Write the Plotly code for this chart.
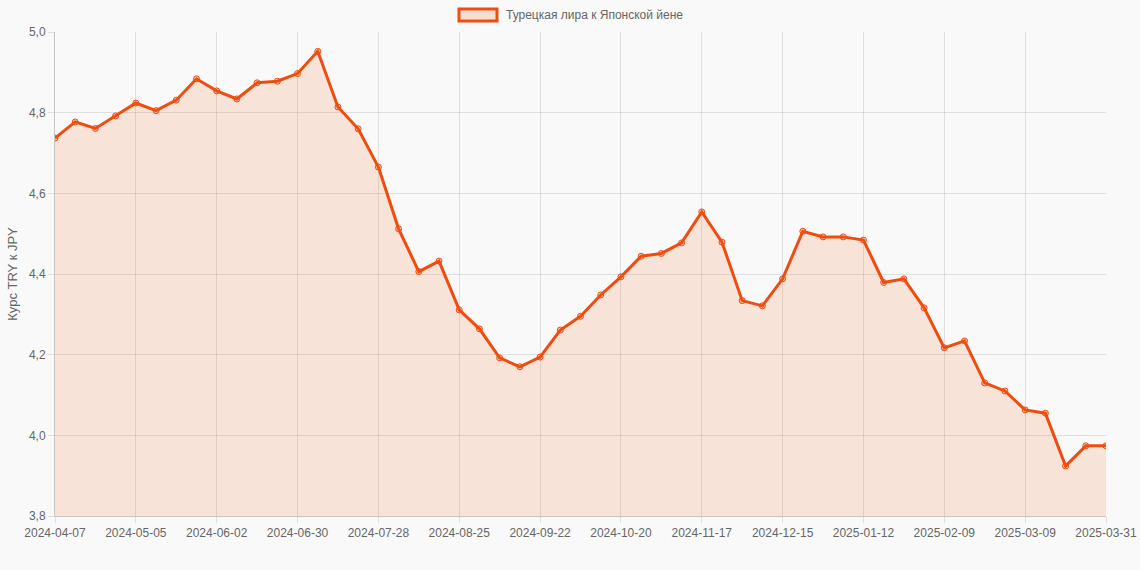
import plotly.graph_objects as go

# weekly dates (category axis), last point is 2025-03-31
dates = [
    "2024-04-07", "2024-04-14", "2024-04-21", "2024-04-28", "2024-05-05", "2024-05-12",
    "2024-05-19", "2024-05-26", "2024-06-02", "2024-06-09", "2024-06-16", "2024-06-23",
    "2024-06-30", "2024-07-07", "2024-07-14", "2024-07-21", "2024-07-28", "2024-08-04",
    "2024-08-11", "2024-08-18", "2024-08-25", "2024-09-01", "2024-09-08", "2024-09-15",
    "2024-09-22", "2024-09-29", "2024-10-06", "2024-10-13", "2024-10-20", "2024-10-27",
    "2024-11-03", "2024-11-10", "2024-11-17", "2024-11-24", "2024-12-01", "2024-12-08",
    "2024-12-15", "2024-12-22", "2024-12-29", "2025-01-05", "2025-01-12", "2025-01-19",
    "2025-01-26", "2025-02-02", "2025-02-09", "2025-02-16", "2025-02-23", "2025-03-02",
    "2025-03-09", "2025-03-16", "2025-03-23", "2025-03-30", "2025-03-31",
]

rates = [
    4.737, 4.777, 4.761, 4.792, 4.824, 4.805, 4.831, 4.884, 4.854, 4.834,
    4.874, 4.878, 4.897, 4.952, 4.814, 4.760, 4.665, 4.512, 4.406, 4.432,
    4.311, 4.264, 4.192, 4.170, 4.194, 4.261, 4.295, 4.348, 4.393, 4.444,
    4.451, 4.477, 4.554, 4.479, 4.334, 4.321, 4.388, 4.506, 4.492, 4.492,
    4.484, 4.379, 4.388, 4.316, 4.217, 4.234, 4.130, 4.110, 4.063, 4.055,
    3.924, 3.974, 3.974,
]

tick_labels = dates[::4] + [dates[-1]]

series_name = "Турецкая лира к Японской йене"
line_color = "#ef4d10"
fill_color = "rgba(242, 110, 50, 0.16)"
bg = "#f9f9f9"
font_family = "Liberation Sans, Arial, sans-serif"

fig = go.Figure()

fig.add_trace(go.Scatter(
    x=dates, y=rates,
    mode="lines+markers",
    name=series_name,
    line=dict(color=line_color, width=3),
    marker=dict(size=6, color="rgba(240, 80, 20, 0.25)",
                line=dict(color=line_color, width=1)),
    fill="tozeroy",
    fillcolor=fill_color,
    showlegend=False,
))

# legend drawn by hand, chart.js style box + label
fig.add_shape(type="rect", xref="paper", yref="paper",
              x0=(459 - 55) / 1051, x1=(497 - 55) / 1051,
              y0=(516 - 21) / 484, y1=(516 - 9) / 484,
              line=dict(color=line_color, width=3), fillcolor="#fbded2")
fig.add_annotation(text=series_name, xref="paper", yref="paper",
                   x=(504 - 55) / 1051, y=(516 - 15) / 484,
                   xanchor="left", yanchor="middle", showarrow=False,
                   font=dict(size=12, color="#666666", family=font_family))

fig.update_layout(
    width=1140, height=570,
    margin=dict(l=55, r=34, t=32, b=54, autoexpand=False),
    paper_bgcolor=bg, plot_bgcolor=bg,
    separators=", ",
    font=dict(family=font_family, size=12, color="#666666"),
    hovermode="x",
)

fig.update_xaxes(
    type="category",
    range=[0, len(dates) - 1],
    tickmode="array", tickvals=tick_labels, ticktext=tick_labels,
    tickangle=0,
    automargin=False,
    showgrid=True, gridcolor="rgba(0,0,0,0.1)", gridwidth=1,
    showline=True, linecolor="rgba(0,0,0,0.2)", linewidth=1,
    ticks="outside", ticklen=6, tickcolor="rgba(0,0,0,0.1)",
    tickfont=dict(size=12, color="#666666"),
    zeroline=False,
)

fig.update_yaxes(
    range=[3.8, 5.0],
    dtick=0.2, tick0=3.8, tickformat=".1f",
    automargin=False,
    showgrid=True, gridcolor="rgba(0,0,0,0.1)", gridwidth=1,
    showline=True, linecolor="rgba(0,0,0,0.2)", linewidth=1,
    ticks="outside", ticklen=6, tickcolor="rgba(0,0,0,0.1)",
    tickfont=dict(size=12, color="#666666"),
    title=dict(text="Курс TRY к JPY", font=dict(size=13, color="#666666"), standoff=8),
    zeroline=False,
)

# drop the default page margin so the figure sits at the window's corner
fig.write_html(
    "out.html",
    config={"displayModeBar": False},
    post_script="document.body.style.margin='0';document.body.style.background='%s';" % bg,
)
